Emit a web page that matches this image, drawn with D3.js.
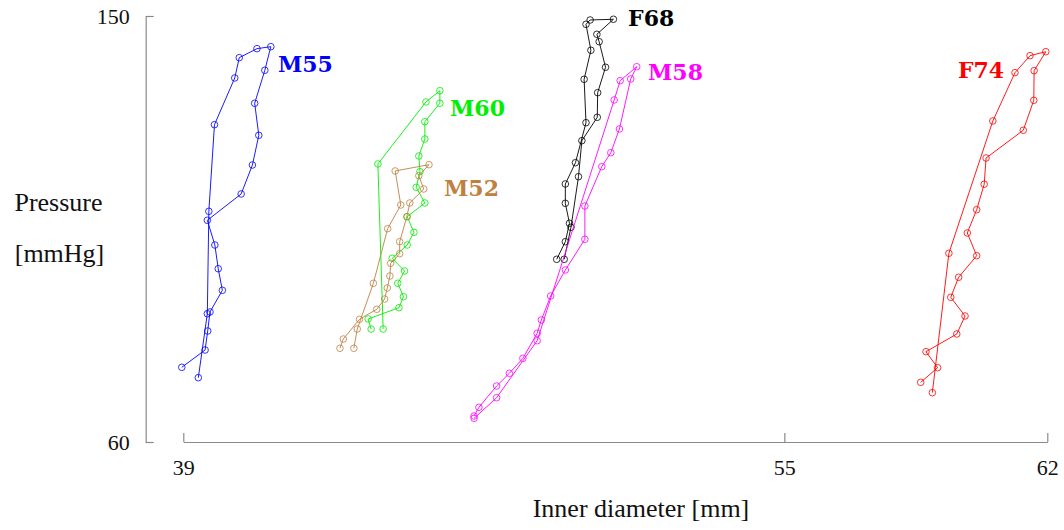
<!DOCTYPE html>
<html><head><meta charset="utf-8">
<script src="https://cdn.jsdelivr.net/npm/d3@7"></script>
<style>body{margin:0;background:#fff}svg{display:block}</style>
</head><body><svg id="c" width="1064" height="530"></svg>
<script>
// ---- data ----
const seriesNames = ["M55", "M60", "M52", "F68", "M58", "F74"];
const xTicks = [39, 55, 62];
const yTicks = [60, 150];

const m55X = [38.96,39.58,39.65,39.71,40.04,39.93,39.84,39.64,40.54,40.84,41.01,40.90,41.17,41.33,40.96,40.49,40.37,39.83,39.68,39.64,39.40];
const m55Y = [75.78,79.44,83.45,87.47,92.05,96.61,101.62,106.84,112.40,118.52,124.80,131.56,138.53,143.52,143.10,141.20,136.91,127.04,108.74,87.11,73.59];

const m60X = [44.00,43.92,44.74,44.86,44.71,44.89,44.56,44.96,45.14,44.96,45.43,45.20,45.30,45.27,45.43,45.43,45.83,45.83,45.46,44.18,44.32];
const m60Y = [83.87,85.99,88.37,90.70,93.53,96.13,98.81,101.62,104.30,107.60,110.50,113.81,117.11,120.43,124.02,127.67,131.56,134.22,131.84,118.74,83.87];

const m52X = [43.17,43.26,43.69,44.15,44.36,44.43,44.50,44.52,44.76,44.76,44.95,45.03,45.40,45.27,45.54,44.64,44.79,44.44,44.06,43.63,43.54];
const m52Y = [79.80,81.76,85.92,88.04,90.21,92.54,95.07,97.76,99.78,102.32,107.60,110.50,113.45,116.26,118.59,117.26,110.07,105.07,93.53,83.87,79.80];

const f68X = [48.94,49.17,49.28,49.17,49.17,49.44,49.72,49.67,49.85,49.72,49.83,50.45,50.01,50.07,50.24,50.03,50.02,49.61,49.52,49.32,49.14];
const f68Y = [98.60,102.32,106.21,110.43,114.51,119.01,127.46,136.63,142.76,148.25,149.16,149.31,146.14,144.57,139.17,133.80,128.60,123.66,116.05,105.36,98.60];

const m58X = [46.74,46.87,47.34,47.68,48.04,48.42,48.53,48.78,49.17,49.69,49.69,50.14,50.38,50.61,50.91,51.07,50.63,50.47,48.42,47.34,46.74];
const m58Y = [65.49,67.33,71.83,74.51,77.68,82.97,85.78,90.85,96.34,102.83,109.86,118.17,121.12,126.13,136.69,139.29,136.34,132.26,81.40,69.36,65.01];

const f74X = [58.63,59.08,58.77,59.59,59.81,59.43,59.64,60.12,59.87,60.12,60.32,60.37,61.36,61.64,61.65,61.96,61.54,61.14,60.55,59.38,58.94];
const f74Y = [72.61,75.70,79.08,82.82,86.62,90.57,94.80,99.36,104.16,109.08,114.45,120.00,125.86,132.19,138.45,142.46,141.62,138.03,127.82,99.87,70.42];

// label anchors (data units)
const labelX = [41.52, 46.10, 45.94, 50.84, 51.37, 59.62];
const labelY = [139.44, 130.14, 113.24, 149.16, 137.75, 138.17];

// ---- styling / layout ----
const colors = ["#0000ff", "#00ee00", "#bf8040", "#000000", "#ff00ff", "#ff0000"];
const seriesX = [m55X, m60X, m52X, f68X, m58X, f74X];
const seriesY = [m55Y, m60Y, m52Y, f68Y, m58Y, f74Y];

const svg = d3.select("#c");
const x = d3.scaleLinear().domain([39, 62]).range([183.3, 1047.3]);
const y = d3.scaleLinear().domain([60, 150]).range([442, 16]);
const axisColor = "#8a8a8a";
const serif = "'Liberation Serif', 'Times New Roman', serif";

// x axis
const gx = svg.append("g").attr("transform", "translate(0,442)")
  .call(d3.axisBottom(x).tickValues(xTicks).tickFormat(d3.format("d"))
    .tickSizeInner(-9).tickSizeOuter(0).tickPadding(17));
// y axis (separated to the left)
const gy = svg.append("g").attr("transform", "translate(145.7,0)")
  .call(d3.axisLeft(y).tickValues(yTicks).tickFormat(d3.format("d"))
    .tickSizeInner(-8).tickSizeOuter(0).tickPadding(16));
[gx, gy].forEach(g => {
  g.select(".domain").attr("stroke", axisColor).attr("stroke-width", 1.2);
  g.selectAll(".tick line").attr("stroke", axisColor).attr("stroke-width", 1.2);
  g.selectAll(".tick text").attr("fill", "#111").style("font-family", serif).style("font-size", "22px");
});

// axis labels
svg.append("text").attr("x", 641).attr("y", 517).attr("text-anchor", "middle")
  .style("font-family", serif).style("font-size", "26px").attr("fill", "#111")
  .text("Inner diameter [mm]");
svg.append("text").attr("x", 58.5).attr("y", 211).attr("text-anchor", "middle")
  .style("font-family", serif).style("font-size", "26px").attr("fill", "#111")
  .text("Pressure");
svg.append("text").attr("x", 59.5).attr("y", 262).attr("text-anchor", "middle")
  .style("font-family", serif).style("font-size", "26px").attr("fill", "#111")
  .text("[mmHg]");

// series
const line = d3.line().x(d => x(d[0])).y(d => y(d[1]));
seriesNames.forEach((name, i) => {
  const pts = seriesX[i].map((v, j) => [v, seriesY[i][j]]);
  const g = svg.append("g");
  g.append("path").datum(pts).attr("d", line)
    .attr("fill", "none").attr("stroke", colors[i]).attr("stroke-width", 0.9);
  g.selectAll("circle").data(pts).enter().append("circle")
    .attr("cx", d => x(d[0])).attr("cy", d => y(d[1])).attr("r", 3.3)
    .attr("fill", "none").attr("stroke", colors[i]).attr("stroke-width", 0.8);
  svg.append("text").attr("x", x(labelX[i])).attr("y", y(labelY[i]))
    .attr("dominant-baseline", "middle")
    .style("font-family", "'DejaVu Serif', serif").style("font-weight", "bold")
    .style("font-size", "22px").attr("fill", colors[i]).text(name);
});
</script></body></html>
